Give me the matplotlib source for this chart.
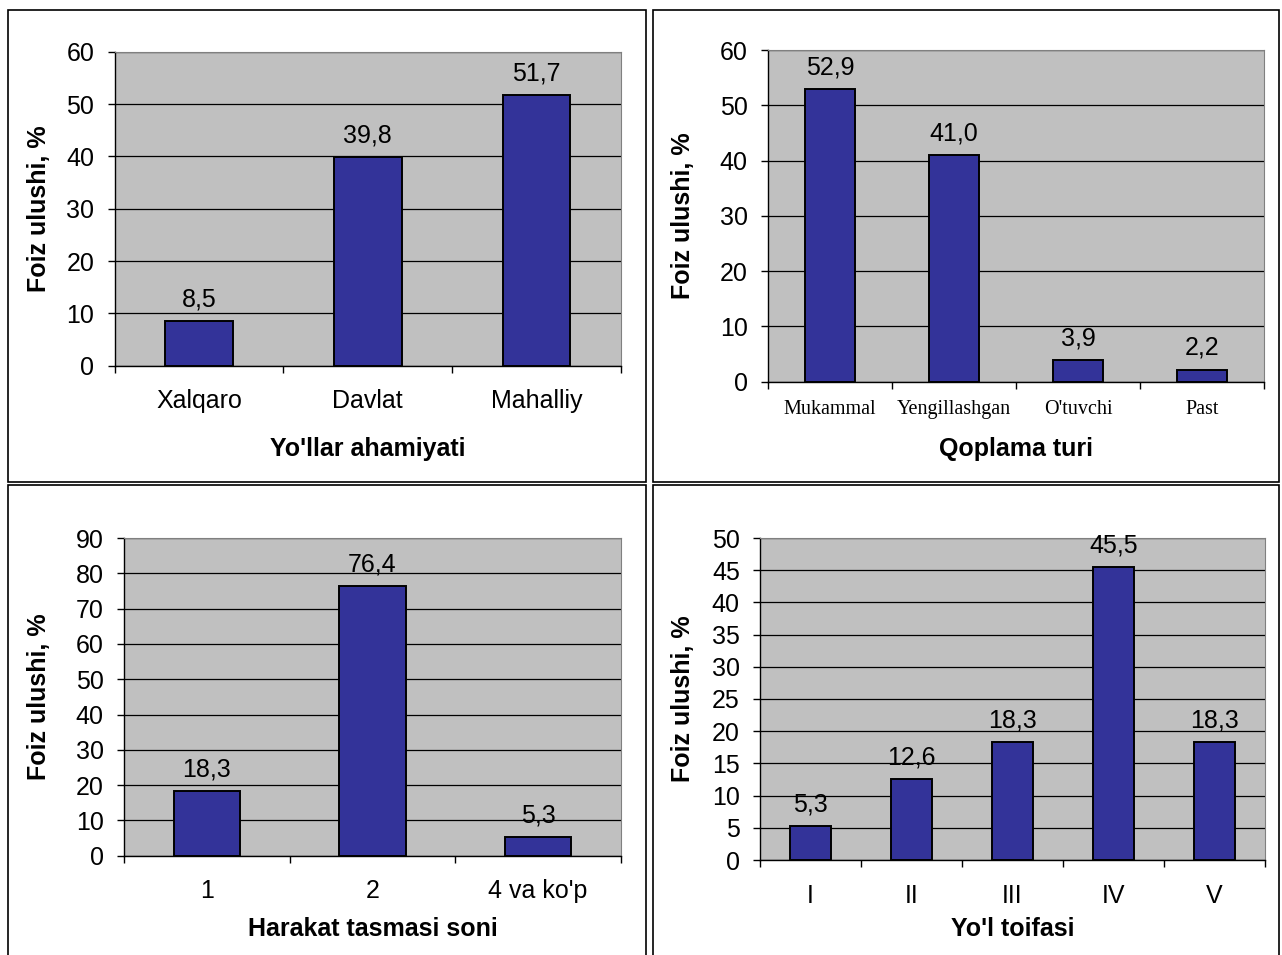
import matplotlib.pyplot as plt
from matplotlib.patches import Rectangle

W, H = 1282, 955

# --- data ---
ahamiyat_cats = ["Xalqaro", "Davlat", "Mahalliy"]
ahamiyat_vals = [8.5, 39.8, 51.7]

qoplama_cats = ["Mukammal", "Yengillashgan", "O'tuvchi", "Past"]
qoplama_vals = [52.9, 41.0, 3.9, 2.2]

tasma_cats = ["1", "2", "4 va ko'p"]
tasma_vals = [18.3, 76.4, 5.3]

toifa_cats = ["I", "II", "III", "IV", "V"]
toifa_vals = [5.3, 12.6, 18.3, 45.5, 18.3]

BAR = "#333399"
BG = "#c0c0c0"
SANS = "Liberation Sans"
SERIF = "Liberation Serif"
FS = 18


def px_rect(l, t, r, b):
    return [l / W, 1 - b / H, (r - l) / W, (b - t) / H]


def draw_panel(fig, box, cats, vals, ymax, ystep, xlabel, xl_y, yl_x,
               tick_pad=17, tick_font=SANS, tick_size=FS):
    ax = fig.add_axes(px_rect(*box))
    n = len(cats)
    ax.set_facecolor(BG)
    ax.bar(range(n), vals, width=0.4, color=BAR, edgecolor="black",
           linewidth=1.4, zorder=3)
    ax.set_xlim(-0.5, n - 0.5)
    ax.set_ylim(0, ymax)
    ax.set_yticks(range(0, ymax + 1, ystep))
    ax.yaxis.grid(True, color="black", linewidth=0.9, zorder=1)
    ax.set_axisbelow(True)

    ax.set_xticks(range(n))
    ax.set_xticklabels(cats, fontfamily=tick_font, fontsize=tick_size)
    ax.set_xticks([i - 0.5 for i in range(n + 1)], minor=True)
    ax.tick_params(axis="x", which="major", length=0, pad=tick_pad)
    ax.tick_params(axis="x", which="minor", length=5, width=1, color="black")
    ax.tick_params(axis="y", length=5, width=1, pad=9.5, labelsize=FS)
    for t in ax.get_yticklabels():
        t.set_fontfamily(SANS)

    for s in ["top", "right"]:
        ax.spines[s].set_color("#808080")
    for s in ["left", "bottom"]:
        ax.spines[s].set_color("black")
        ax.spines[s].set_linewidth(1)

    for i, v in enumerate(vals):
        ax.annotate(f"{v:.1f}".replace(".", ","), (i, v), xytext=(0, 7),
                    textcoords="offset points", ha="center", va="bottom",
                    fontfamily=SANS, fontsize=FS, zorder=4)

    ax.set_xlabel(xlabel, fontfamily=SANS, fontsize=FS, fontweight="bold")
    ax.xaxis.label.set_va("center")
    ax.xaxis.set_label_coords((box[0] + box[2]) / 2 / W, 1 - xl_y / H,
                              transform=fig.transFigure)
    ax.set_ylabel("Foiz ulushi, %", fontfamily=SANS, fontsize=FS,
                  fontweight="bold")
    ax.yaxis.label.set_va("center")
    ax.yaxis.set_label_coords(yl_x / W, 1 - (box[1] + box[3]) / 2 / H,
                              transform=fig.transFigure)
    return ax


fig = plt.figure(figsize=(W / 100, H / 100), dpi=100)

# panel frames
for l, t, r, b in [(8, 10, 646, 482), (653, 10, 1279, 482),
                   (8, 485, 646, 970), (653, 485, 1279, 970)]:
    fig.patches.append(Rectangle((l / W, 1 - b / H), (r - l) / W, (b - t) / H,
                                 transform=fig.transFigure, fill=False,
                                 edgecolor="black", linewidth=1.2))

draw_panel(fig, (114.5, 51.7, 621, 365.7), ahamiyat_cats, ahamiyat_vals,
           60, 10, "Yo'llar ahamiyati", 449, 39)
draw_panel(fig, (768, 50, 1264, 381.7), qoplama_cats, qoplama_vals,
           60, 10, "Qoplama turi", 449, 683, tick_pad=13,
           tick_font=SERIF, tick_size=14.5)
draw_panel(fig, (124, 538, 621, 855.7), tasma_cats, tasma_vals,
           90, 10, "Harakat tasmasi soni", 929, 39)
draw_panel(fig, (760, 538, 1265, 860), toifa_cats, toifa_vals,
           50, 5, "Yo'l toifasi", 929, 683)

fig.savefig("out.png", dpi=100)
